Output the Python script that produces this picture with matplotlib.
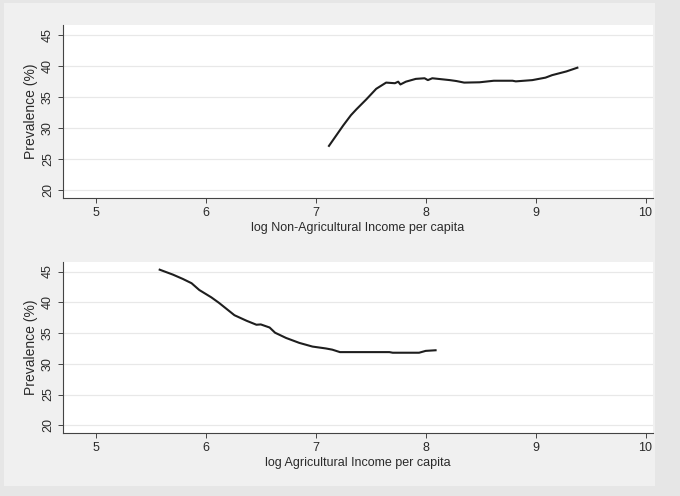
import matplotlib
matplotlib.use("Agg")
import matplotlib.pyplot as plt
from matplotlib.patches import Rectangle

plt.rcParams["font.family"] = ["Liberation Sans", "DejaVu Sans"]

# smoothed prevalence vs log non-agricultural income (top panel)
nonag_x = [7.12, 7.25, 7.32, 7.37, 7.46, 7.55, 7.64, 7.72, 7.75, 7.77, 7.82, 7.91,
           7.99, 8.02, 8.06, 8.22, 8.28, 8.35, 8.49, 8.62, 8.79, 8.82, 8.97, 9.09,
           9.15, 9.28, 9.38]
nonag_y = [27.1, 30.4, 32.05, 33.0, 34.6, 36.3, 37.3, 37.2, 37.45, 37.0, 37.45, 37.9,
           38.0, 37.7, 38.0, 37.7, 37.55, 37.3, 37.35, 37.6, 37.6, 37.5, 37.7, 38.1,
           38.5, 39.1, 39.7]

# smoothed prevalence vs log agricultural income (bottom panel)
ag_x = [5.58, 5.70, 5.79, 5.87, 5.94, 6.05, 6.12, 6.19, 6.26, 6.37, 6.46, 6.50,
        6.58, 6.63, 6.73, 6.85, 6.97, 7.09, 7.15, 7.22, 7.52, 7.67, 7.70, 7.94,
        8.00, 8.09]
ag_y = [45.3, 44.5, 43.8, 43.1, 42.0, 40.8, 39.9, 38.9, 37.9, 37.0, 36.35, 36.4,
        35.9, 35.05, 34.2, 33.4, 32.8, 32.5, 32.3, 31.9, 31.9, 31.9, 31.8, 31.8,
        32.1, 32.2]

xticks = [5, 6, 7, 8, 9, 10]
yticks = [20, 25, 30, 35, 40, 45]

panels = [
    (nonag_x, nonag_y, "log Non-Agricultural Income per capita", [0.0926, 0.6008, 0.868, 0.349]),
    (ag_x, ag_y, "log Agricultural Income per capita", [0.0926, 0.1264, 0.868, 0.346]),
]

fig = plt.figure(figsize=(6.8, 4.96), dpi=100, facecolor="#e6e6e6")
bg = Rectangle((4 / 680, 1 - 486 / 496), 651 / 680, 483 / 496,
               transform=fig.transFigure, facecolor="#f0f0f0",
               edgecolor="none", zorder=-10)
fig.add_artist(bg)

for xs, ys, xlab, pos in panels:
    ax = fig.add_axes(pos, zorder=5)
    ax.set_facecolor("white")
    ax.plot(xs, ys, color="#1e1e1e", lw=1.5, solid_joinstyle="round")
    ax.set_xlim(4.70, 10.07)
    ax.set_ylim(18.7, 46.6)
    ax.set_xticks(xticks)
    ax.set_yticks(yticks)
    ax.yaxis.grid(True, color="#e8e8e8", lw=0.9)
    ax.set_axisbelow(True)
    for s in ["top", "right"]:
        ax.spines[s].set_visible(False)
    for s in ["left", "bottom"]:
        ax.spines[s].set_color("#444444")
        ax.spines[s].set_linewidth(0.8)
    ax.tick_params(direction="out", length=3.5, width=0.7, color="#444444",
                   labelsize=9, labelcolor="#2a2a2a", pad=3)
    for lbl in ax.get_yticklabels():
        lbl.set_rotation(90)
        lbl.set_va("center")
    ax.set_xlabel(xlab, fontsize=9, color="#2a2a2a", labelpad=2)
    ax.set_ylabel("Prevalence (%)", fontsize=10, color="#2a2a2a", labelpad=3)

fig.savefig("out.png", dpi=100, facecolor=fig.get_facecolor())
